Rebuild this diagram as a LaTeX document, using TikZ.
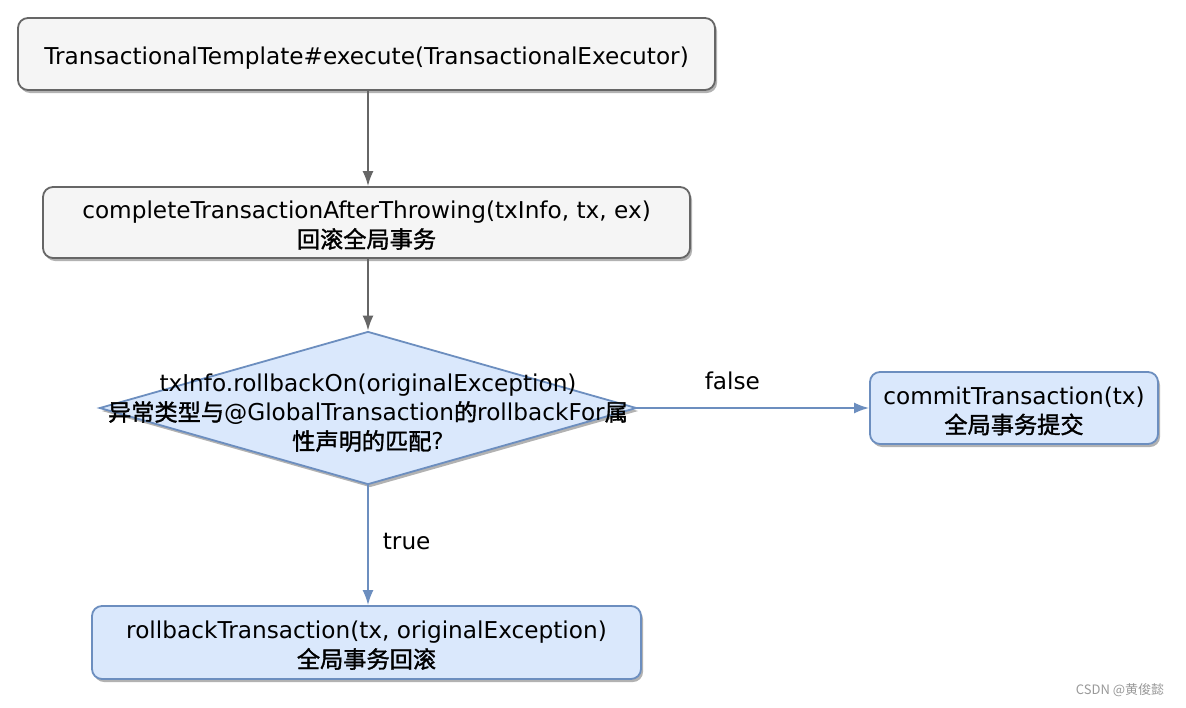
\documentclass[tikz,border=0pt]{standalone}
\usepackage{fontspec}
\setmainfont{DejaVu Sans}
\newfontfamily\cjk{Noto Sans CJK SC}[FakeBold=1.5]
\newfontfamily\cjkmark{Noto Sans CJK TC}
\usetikzlibrary{shapes.geometric,arrows.meta,shadows}
\definecolor{gfill}{HTML}{F5F5F5}
\definecolor{gline}{HTML}{666666}
\definecolor{bfill}{HTML}{DAE8FC}
\definecolor{bline}{HTML}{6C8EBF}
\tikzset{
  boxbase/.style={rounded corners=10pt, line width=1.8pt, inner sep=0pt,
    drop shadow={shadow xshift=2pt, shadow yshift=-3pt, opacity=0.3, fill=black}},
  graybox/.style={boxbase, draw=gline, fill=gfill},
  bluebox/.style={boxbase, draw=bline, fill=bfill},
  decisionbox/.style={diamond, draw=bline, fill=bfill, line width=1.8pt, inner sep=0pt,
    drop shadow={shadow xshift=2pt, shadow yshift=-3pt, opacity=0.3, fill=black}},
  grayarrow/.style={draw=gline, line width=1.8pt, -{Latex[length=15pt,width=11pt]}},
  bluearrow/.style={draw=bline, line width=1.8pt, -{Latex[length=15pt,width=11pt]}},
  edgelabel/.style={font=\fontsize{23.2}{26}\selectfont, inner sep=2pt},
  textlabel/.style={font=\fontsize{23.2}{29}\selectfont, align=center, inner sep=0pt},
}
\begin{document}
\begin{tikzpicture}[x=1pt,y=-1pt]
\useasboundingbox[fill=white] (0,0) rectangle (1186,707);

\node[graybox, minimum width=697, minimum height=72] (exec) at (366.5,54) {};
\node[textlabel] (exectext) at ([yshift=-4pt]exec.center)
  {TransactionalTemplate\#execute(TransactionalExecutor)};
\node[graybox, minimum width=647, minimum height=71] (complete) at (366.5,222.5) {};
\node[textlabel] (completetext) at ([yshift=-3pt]complete.center)
  {completeTransactionAfterThrowing(txInfo, tx, ex)\\{\cjk 回滚全局事务}};
\node[decisionbox, minimum width=537, minimum height=153] (check) at (368,408) {};
\node[textlabel] (checktext) at ([yshift=-5pt]check.center)
  {txInfo.rollbackOn(originalException)\\{\cjk 异常类型与}@GlobalTransaction{\cjk 的}rollbackFor{\cjk 属}\\{\cjk 性声明的匹配}?};
\node[bluebox, minimum width=288, minimum height=72] (commit) at (1014,408) {};
\node[textlabel] (committext) at ([yshift=-3pt]commit.center)
  {commitTransaction(tx)\\{\cjk 全局事务提交}};
\node[bluebox, minimum width=549, minimum height=73] (rollback) at (366.5,642.5) {};
\node[textlabel] (rollbacktext) at ([yshift=-3pt]rollback.center)
  {rollbackTransaction(tx, originalException)\\{\cjk 全局事务回滚}};

\draw[grayarrow] (exec.south -| check.north) -- (complete.north -| check.north);
\draw[grayarrow] (complete.south -| check.north) -- (check.north);
\draw[bluearrow] (check.east) -- node[edgelabel, pos=0.41, above=15pt] (falselabel) {false} (commit.west);
\draw[bluearrow] (check.south) -- node[edgelabel, pos=0.47, right=12pt] (truelabel) {true} (check.south |- rollback.north);

\node[font=\fontsize{13}{15}\selectfont\cjkmark, text=black!40, inner sep=0pt] (mark) at (1120,690)
  {CSDN @黄俊懿};
\end{tikzpicture}
\end{document}
